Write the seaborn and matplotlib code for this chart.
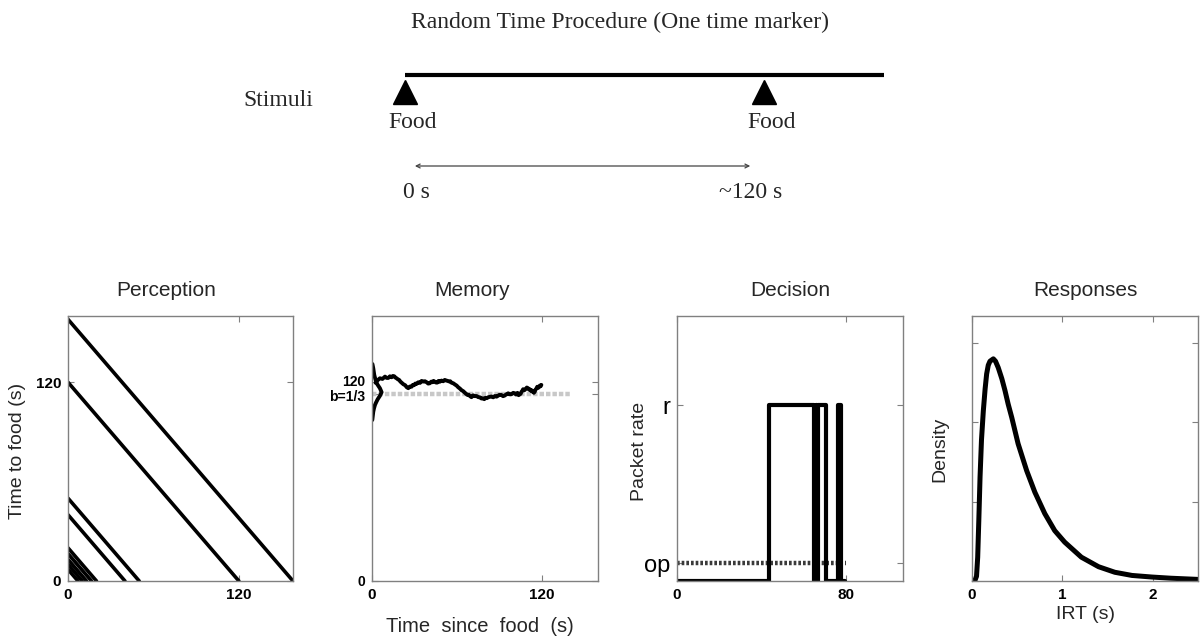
import numpy as np
import pandas as pd
import matplotlib
matplotlib.use("Agg")
import matplotlib.pyplot as plt
import matplotlib.transforms as mtransforms
import seaborn as sns

# ---------------------------------------------------------------- data
# Stimulus timeline (seconds)
food_times = [0, 120]
timeline_end = 160
interval_label_times = [0, 120]
interval_labels = ["0 s", "~120 s"]

# Perception: time-to-food ramps, one per inter-food interval (s)
perception_intervals = [7, 10, 13, 16.5, 20, 40, 50, 120, 158]

# Memory: running estimate of the interval (time since food, value)
memory_t = [2.5, 4.0, 5.6, 7.4, 9.2, 10.4, 11.5, 12.7, 13.9, 14.8, 15.8, 16.6,
            17.4, 18.3, 19.2, 20.1, 21.0, 22.2, 23.5, 24.6, 25.7, 26.8, 28.0,
            28.9, 29.8, 30.6, 31.5, 32.8, 34.0, 35.1, 36.3, 37.5, 38.7, 39.8,
            41.0, 42.0, 42.8, 43.6, 44.5, 45.3, 46.2, 47.1, 48.0, 49.2, 50.4,
            51.5, 52.7, 53.6, 54.5, 55.4, 56.3, 57.5, 58.8, 59.9, 61.0, 62.2,
            63.4, 64.6, 65.7, 66.6, 67.5, 68.4, 69.3, 70.4, 71.6, 72.8, 74.0,
            75.2, 76.4, 77.5, 78.7, 79.5, 80.4, 81.3, 82.2, 83.4, 84.6, 85.8,
            87.0, 88.2, 89.3, 90.4, 91.6, 92.8, 94.0, 95.2, 96.4, 97.6, 98.8,
            100.0, 101.1, 102.0, 103.0, 103.8, 104.6, 105.2, 105.8, 106.4,
            107.0, 107.9, 108.8, 109.6, 110.5, 111.1, 111.7, 112.3, 112.8,
            113.4, 114.0, 114.6, 115.2, 115.8, 116.4, 117.0, 117.6, 118.2,
            118.8, 119.4, 119.9]
memory_v = [119.7, 121.2, 122.4, 122.0, 123.4, 122.6, 122.6, 123.6, 123.0, 123.8,
            123.6, 122.8, 122.4, 121.8, 121.4, 120.4, 119.7, 118.8, 118.2, 117.0,
            116.4, 117.4, 117.3, 118.4, 118.2, 119.2, 119.0, 120.0, 119.6, 120.8,
            120.4, 120.6, 120.0, 119.2, 119.4, 120.4, 120.0, 120.8, 120.3, 119.8,
            119.8, 120.8, 120.3, 121.0, 120.6, 121.4, 121.0, 120.8, 120.5, 120.6,
            119.7, 119.4, 118.6, 118.0, 117.0, 116.2, 115.2, 114.6, 113.7, 113.0,
            112.4, 112.5, 111.7, 111.0, 112.1, 111.6, 111.7, 111.0, 110.9, 110.2,
            110.3, 109.8, 110.6, 110.4, 110.9, 111.2, 111.4, 110.9, 111.7, 111.3,
            111.9, 112.5, 112.3, 111.6, 112.0, 112.8, 113.3, 112.7, 112.8, 113.6,
            113.3, 112.6, 113.6, 112.2, 112.7, 113.0, 114.2, 114.8, 115.8, 115.2,
            115.9, 116.8, 116.4, 115.6, 115.8, 115.0, 115.3, 114.4, 114.6, 113.6,
            114.3, 115.6, 116.2, 117.3, 116.6, 117.0, 118.0, 117.6, 118.4]
# Memory: sampled reference distribution drawn along the vertical axis
memory_dist_x = [0.3, 0.9, 1.6, 2.4, 3.3, 4.5, 5.6, 6.8, 5.6, 4.0, 3.0, 2.1,
                 1.4, 0.9, 0.2]
memory_dist_y = [131.0, 128.4, 124.4, 121.8, 119.4, 117.8, 116.4, 114.0, 111.8,
                 109.7, 108.0, 106.3, 104.2, 102.2, 97.2]
memory_b = 113
memory_b_end = 140

# Decision: packet rate switching between 0 and r (time since food)
decision_t = [0, 43.5, 64.8, 65.5, 65.9, 66.4, 70.5, 76.0, 77.3, 79.5]
decision_rate = [0, 1, 0, 1, 0, 1, 0, 1, 0, 0]
rate_r = 1.0
rate_op = 0.1
op_end = 80

# Responses: inter-response-time density
irt = [0.0, 0.03, 0.05, 0.063, 0.075, 0.089, 0.105, 0.125, 0.145, 0.162, 0.18,
       0.199, 0.236, 0.26, 0.29, 0.33, 0.365, 0.40, 0.44, 0.51, 0.605, 0.695,
       0.805, 0.915, 1.025, 1.21, 1.40, 1.58, 1.77, 1.99, 2.2, 2.5]
irt_density = [0.0, 0.0, 0.06, 0.30, 0.75, 1.31, 1.78, 2.14, 2.42, 2.61, 2.72,
               2.77, 2.80, 2.77, 2.69, 2.55, 2.40, 2.23, 2.06, 1.73, 1.39, 1.12,
               0.85, 0.635, 0.49, 0.30, 0.18, 0.11, 0.07, 0.05, 0.035, 0.02]

# ---------------------------------------------------------------- figure
sns.set_theme(style="white")
plt.rcParams["font.family"] = ["Liberation Sans", "DejaVu Sans"]

W, H = 1202, 642
fig = plt.figure(figsize=(W / 100, H / 100), dpi=100)


def px_axes(x0, x1, y0, y1):
    return fig.add_axes([x0 / W, 1 - y1 / H, (x1 - x0) / W, (y1 - y0) / H])


FRAME = "#808080"


def style_panel(ax):
    for s in ax.spines.values():
        s.set_visible(True)
        s.set_color(FRAME)
        s.set_linewidth(1.0)
    ax.tick_params(direction="in", length=4, width=0.8, color=FRAME,
                   bottom=True, left=True, top=True, right=True,
                   labelsize=11, pad=5, labelcolor="black")
    for lab in ax.get_xticklabels() + ax.get_yticklabels():
        lab.set_fontweight("bold")
    ax.set_facecolor("white")


def panel_title(ax, text, x=0.5):
    ax.text(x, 1.098, text, transform=ax.transAxes, ha="center", va="center",
            fontsize=15)


def ylab(ax, text, fx, fy=0.49):
    ax.set_ylabel(text, fontsize=14, va="center")
    ax.yaxis.set_label_coords(fx, fy)


# ---- stimulus timeline
top = px_axes(0, W, 0, 250)
s_per_px = 120 / (764 - 405)
top.set_xlim(-405 * s_per_px, (W - 405) * s_per_px)
top.set_ylim(250, 0)
top.axis("off")
serif = ["Liberation Serif", "DejaVu Serif"]

top.text(0.516, 1 - 22 / 250, "Random Time Procedure (One time marker)",
         transform=top.transAxes, ha="center", va="center", fontsize=17,
         family=serif)
top.plot([food_times[0], timeline_end], [75, 75], color="black", lw=3,
         solid_capstyle="butt")
top.plot(food_times, [92] * len(food_times), marker="^", markersize=17.5,
         linestyle="none", color="black")
for t in food_times:
    top.text(t + 2.6, 123, "Food", ha="center", va="center", fontsize=17,
             family=serif)
top.text(-42.5, 100, "Stimuli", ha="center", va="center", fontsize=17,
         family=serif)
top.annotate("", xy=(interval_label_times[0] + 3.3, 166),
             xytext=(interval_label_times[1] - 4.6, 166),
             arrowprops=dict(arrowstyle="<->", color="#444444", lw=0.9,
                             mutation_scale=7, shrinkA=0, shrinkB=0))
for t, lab in zip(interval_label_times, interval_labels):
    top.text(t + (3.7 if t == 0 else -4.6), 193, lab, ha="center",
             va="center", fontsize=17, family=serif)

# ---- Perception
ax1 = px_axes(68, 293, 316, 581)
perc = pd.DataFrame(
    [(k, x, T - x) for k, T in enumerate(perception_intervals) for x in (0, T)],
    columns=["interval", "since", "to"])
sns.lineplot(data=perc, x="since", y="to", units="interval", estimator=None,
             color="black", lw=2.6, ax=ax1, legend=False)
ax1.set_xlim(0, 158)
ax1.set_ylim(0, 160)
ax1.set_xticks([0, 120])
ax1.set_yticks([0, 120])
ax1.set_xlabel("")
style_panel(ax1)
panel_title(ax1, "Perception", 0.436)
ylab(ax1, "Time to food (s)", -0.224)

# ---- Memory
ax2 = px_axes(372, 598, 316, 581)
bline = pd.DataFrame({"t": [0, memory_b_end], "v": [memory_b, memory_b]})
sns.lineplot(data=bline, x="t", y="v", color="#c8c8c8", lw=3.2,
             linestyle=(0, (1.0, 0.45)), ax=ax2)
dist = pd.DataFrame({"x": memory_dist_x, "y": memory_dist_y})
sns.lineplot(data=dist, x="x", y="y", sort=False, estimator=None,
             color="black", lw=2.8, ax=ax2)
walk = pd.DataFrame({"t": memory_t, "v": memory_v})
sns.lineplot(data=walk, x="t", y="v", color="black", lw=2.8, ax=ax2)
ax2.set_xlim(0, 160)
ax2.set_ylim(0, 160)
ax2.set_xticks([0, 120])
ax2.set_yticks([0, memory_b, 120])
ax2.set_yticklabels(["0", "b=1/3", "120"])
ax2.set_ylabel("")
style_panel(ax2)
ylabels2 = ax2.get_yticklabels()
for lab, dy in zip(ylabels2, [0, -2, 2]):
    lab.set_fontsize(10)
    lab.set_transform(lab.get_transform() +
                      mtransforms.ScaledTranslation(0, dy / 100, fig.dpi_scale_trans))
ax2.set_xlabel("Time  since  food  (s)", fontsize=14.5, va="center")
ax2.xaxis.set_label_coords(0.478, -0.17)
panel_title(ax2, "Memory", 0.442)

# ---- Decision
ax3 = px_axes(677, 903, 316, 581)
opline = pd.DataFrame({"t": [0, op_end], "v": [rate_op, rate_op]})
sns.lineplot(data=opline, x="t", y="v", color="#3a3a3a", lw=3.2,
             linestyle=(0, (0.6, 0.45)), ax=ax3)
dec = pd.DataFrame({"t": decision_t, "rate": decision_rate})
sns.lineplot(data=dec, x="t", y="rate", color="black", lw=3,
             drawstyle="steps-post", ax=ax3)
ax3.set_xlim(0, 106.7)
ax3.set_ylim(0, 1.506)
ax3.set_xticks([0, 80])
ax3.set_yticks([rate_op, rate_r])
ax3.set_yticklabels(["op", "r"])
ax3.set_xlabel("")
style_panel(ax3)
for lab in ax3.get_yticklabels():
    lab.set_fontweight("normal")
    lab.set_fontsize(17)
panel_title(ax3, "Decision")
ylab(ax3, "Packet rate", -0.168)

# ---- Responses
ax4 = px_axes(972, 1198, 316, 581)
resp = pd.DataFrame({"irt": irt, "density": irt_density})
sns.lineplot(data=resp, x="irt", y="density", color="black", lw=3.6, ax=ax4)
ax4.set_xlim(0, 2.5)
ax4.set_ylim(0, 3.34)
ax4.set_xticks([0, 1, 2])
ax4.set_yticks([0, 1, 2, 3])
ax4.set_yticklabels([])
style_panel(ax4)
ax4.set_xlabel("IRT (s)", fontsize=14, va="center")
ax4.xaxis.set_label_coords(0.504, -0.128)
panel_title(ax4, "Responses")
ylab(ax4, "Density", -0.142, 0.496)

fig.savefig("out.png", dpi=100, facecolor="white")
